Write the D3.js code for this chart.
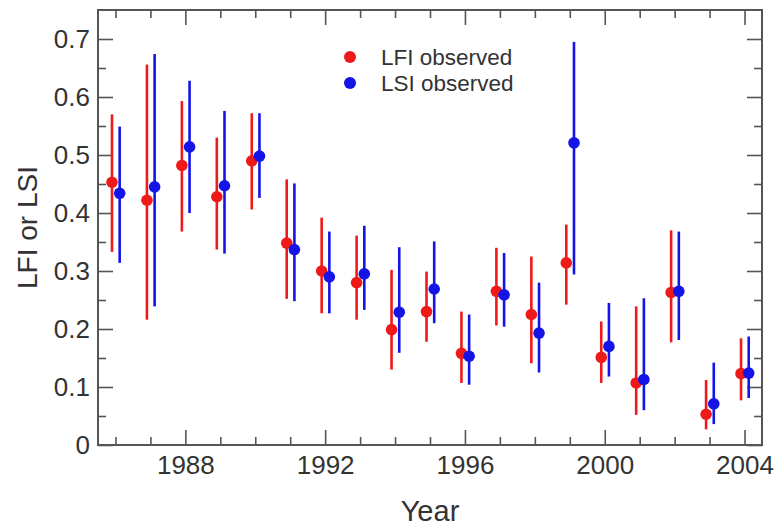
<!DOCTYPE html>
<html>
<head>
<meta charset="utf-8">
<script src="https://cdn.jsdelivr.net/npm/d3@7"></script>
<style>
  body { margin: 0; background: #fff; }
  text { font-family: 'Liberation Sans', Arial, Helvetica, sans-serif; fill: #333; }
</style>
</head>
<body>
<script>
// values
var years = [1986, 1987, 1988, 1989, 1990, 1991, 1992, 1993, 1994, 1995,
  1996, 1997, 1998, 1999, 2000, 2001, 2002, 2003, 2004]

var lfi = [0.453, 0.422, 0.482, 0.428, 0.490, 0.348, 0.300, 0.280, 0.199, 0.230,
  0.158, 0.265, 0.225, 0.314, 0.151, 0.107, 0.263, 0.053, 0.123]
var lfiLo = [0.333, 0.216, 0.368, 0.337, 0.406, 0.252, 0.227, 0.216, 0.130, 0.178,
  0.107, 0.206, 0.141, 0.242, 0.107, 0.052, 0.177, 0.027, 0.077]
var lfiHi = [0.570, 0.656, 0.593, 0.530, 0.572, 0.458, 0.392, 0.361, 0.302, 0.299,
  0.230, 0.340, 0.325, 0.380, 0.213, 0.239, 0.370, 0.112, 0.184]

var lsi = [0.434, 0.445, 0.514, 0.447, 0.498, 0.337, 0.290, 0.295, 0.229, 0.269,
  0.153, 0.259, 0.193, 0.521, 0.170, 0.113, 0.265, 0.071, 0.124]
var lsiLo = [0.314, 0.239, 0.400, 0.330, 0.426, 0.248, 0.227, 0.233, 0.159, 0.210,
  0.104, 0.204, 0.125, 0.294, 0.118, 0.060, 0.181, 0.036, 0.081]
var lsiHi = [0.549, 0.674, 0.628, 0.576, 0.572, 0.451, 0.368, 0.378, 0.341, 0.351,
  0.225, 0.331, 0.280, 0.695, 0.245, 0.253, 0.368, 0.142, 0.187]

var majorYears = [1988, 1992, 1996, 2000, 2004]
var yMajor = [0, 0.1, 0.2, 0.3, 0.4, 0.5, 0.6, 0.7]
var yMinor = [0.05, 0.15, 0.25, 0.35, 0.45, 0.55, 0.65]

var seriesNames = ['LFI observed', 'LSI observed']
var red = '#ee1a1a'
var blue = '#1414e6'

var margin = { top: 10, right: 16, bottom: 83, left: 98 }
var width = 778 - margin.left - margin.right
var height = 528 - margin.top - margin.bottom

var svg = d3.select('body').append('svg')
  .attr('width', 778)
  .attr('height', 528)
var g = svg.append('g')
  .attr('transform', 'translate(' + margin.left + ',' + margin.top + ')')

var x = d3.scaleLinear().domain([1985.5, 2004.5]).range([0, width])
var y = d3.scaleLinear().domain([0, 0.75]).range([height, 0])

// both series, red slightly left of the year, blue slightly right
var series = [
  { color: red, off: -0.1, v: lfi, lo: lfiLo, hi: lfiHi },
  { color: blue, off: 0.12, v: lsi, lo: lsiLo, hi: lsiHi }
]

var minorYears = years.filter(function (d) { return majorYears.indexOf(d) < 0 })

// axes, ticks pointing inward
function styleAxis (sel) {
  sel.select('.domain').remove()
  sel.selectAll('line').attr('stroke', '#555').attr('stroke-width', 1.6)
  sel.selectAll('text').style('font-size', '26px').attr('fill', '#333')
}

g.append('g').attr('transform', 'translate(0,' + height + ')')
  .call(d3.axisBottom(x).tickValues(majorYears).tickSize(-15).tickPadding(11).tickFormat(d3.format('d')))
  .call(styleAxis)
g.append('g').attr('transform', 'translate(0,' + height + ')')
  .call(d3.axisBottom(x).tickValues(minorYears).tickSize(-8).tickFormat(''))
  .call(styleAxis)
g.append('g')
  .call(d3.axisTop(x).tickValues(majorYears).tickSize(-15).tickFormat(''))
  .call(styleAxis)
g.append('g')
  .call(d3.axisTop(x).tickValues(minorYears).tickSize(-8).tickFormat(''))
  .call(styleAxis)

g.append('g')
  .call(d3.axisLeft(y).tickValues(yMajor).tickSize(-15).tickPadding(8).tickFormat(function (d) { return d === 0 ? '0' : d3.format('.1f')(d) }))
  .call(styleAxis)
g.append('g')
  .call(d3.axisLeft(y).tickValues(yMinor).tickSize(-8).tickFormat(''))
  .call(styleAxis)
g.append('g').attr('transform', 'translate(' + width + ',0)')
  .call(d3.axisRight(y).tickValues(yMajor).tickSize(-15).tickFormat(''))
  .call(styleAxis)
g.append('g').attr('transform', 'translate(' + width + ',0)')
  .call(d3.axisRight(y).tickValues(yMinor).tickSize(-8).tickFormat(''))
  .call(styleAxis)

// frame
g.append('rect')
  .attr('width', width).attr('height', height)
  .attr('fill', 'none').attr('stroke', '#555').attr('stroke-width', 2)

// error bars and points
series.forEach(function (s) {
  var grp = g.append('g')
  grp.selectAll('line.err')
    .data(years)
    .enter().append('line')
    .attr('class', 'err')
    .attr('x1', function (d) { return x(d + s.off) })
    .attr('x2', function (d) { return x(d + s.off) })
    .attr('y1', function (d, i) { return y(s.lo[i]) })
    .attr('y2', function (d, i) { return y(s.hi[i]) })
    .attr('stroke', s.color)
    .attr('stroke-width', 2.6)
  grp.selectAll('circle')
    .data(years)
    .enter().append('circle')
    .attr('cx', function (d) { return x(d + s.off) })
    .attr('cy', function (d, i) { return y(s.v[i]) })
    .attr('r', 5.8)
    .attr('fill', s.color)
})

// legend
var legend = svg.append('g')
seriesNames.forEach(function (name, i) {
  legend.append('circle')
    .attr('cx', 350).attr('cy', 57 + i * 26)
    .attr('r', 6).attr('fill', series[i].color)
  legend.append('text')
    .attr('x', 381).attr('y', 57 + i * 26 + 7.5)
    .style('font-size', '22.5px')
    .text(name)
})

// axis titles
svg.append('text')
  .attr('x', margin.left + width / 2).attr('y', 521)
  .attr('text-anchor', 'middle')
  .style('font-size', '29px')
  .text('Year')

svg.append('text')
  .attr('transform', 'translate(37,' + (margin.top + height / 2) + ') rotate(-90)')
  .attr('text-anchor', 'middle')
  .style('font-size', '28px')
  .text('LFI or LSI')
</script>
</body>
</html>
